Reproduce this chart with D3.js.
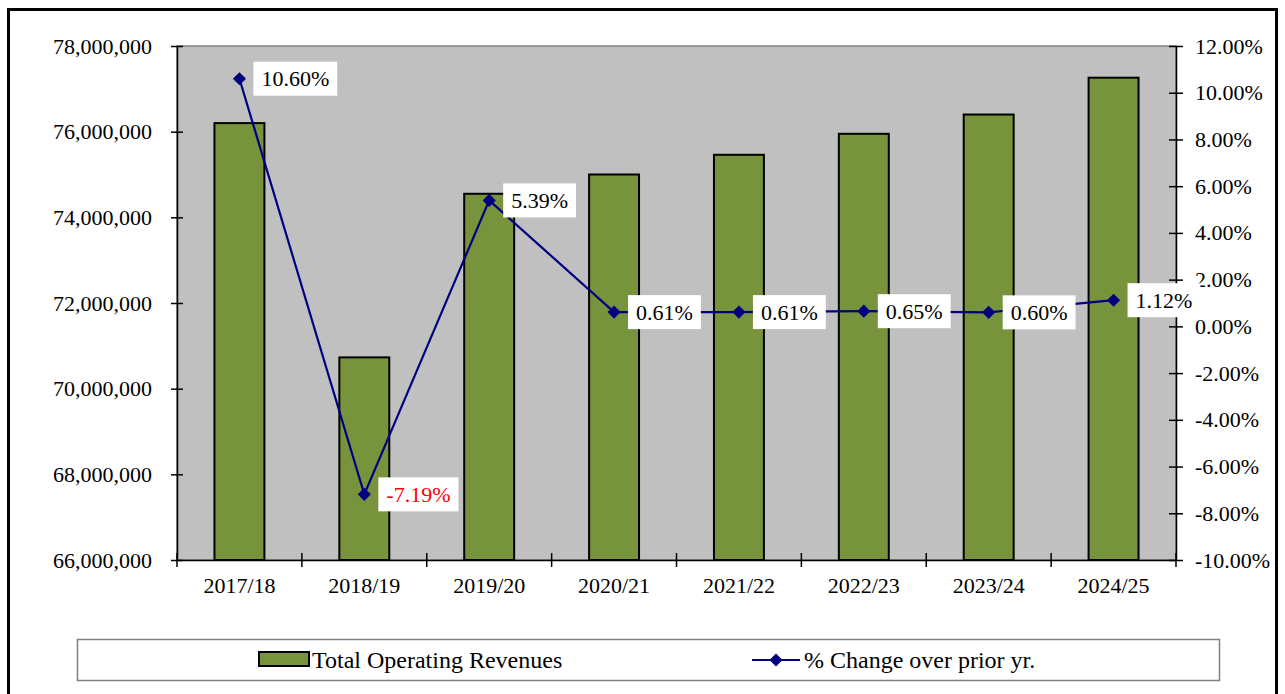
<!DOCTYPE html>
<html>
<head>
<meta charset="utf-8">
<script src="https://cdn.jsdelivr.net/npm/d3@7"></script>
<style>
  body { margin: 0; background: #fff; }
  svg text { font-family: "Liberation Serif", "Times New Roman", serif; fill: #000; }
</style>
</head>
<body>
<div id="chart"></div>
<script>
'use strict';

// data
var years = ["2017/18", "2018/19", "2019/20", "2020/21", "2021/22", "2022/23", "2023/24", "2024/25"];
var revenues = [76200000, 70730000, 74550000, 75000000, 75460000, 75950000, 76400000, 77260000];
var pctChange = [10.60, -7.19, 5.39, 0.61, 0.61, 0.65, 0.60, 1.12];
var revenueTicks = [66000000, 68000000, 70000000, 72000000, 74000000, 76000000, 78000000];
var pctTicks = [-10, -8, -6, -4, -2, 0, 2, 4, 6, 8, 10, 12];

var svgWidth = 1285, svgHeight = 694;
var margin = {top: 46, right: 109, bottom: 134, left: 177};
var width = svgWidth - margin.left - margin.right;
var height = svgHeight - margin.top - margin.bottom;

var svg = d3.select("#chart").append("svg")
  .attr("width", svgWidth)
  .attr("height", svgHeight);

// outer frame
svg.append("rect")
  .attr("x", 8.5).attr("y", 9.5)
  .attr("width", 1268).attr("height", 700)
  .attr("fill", "none").attr("stroke", "#000").attr("stroke-width", 3);

var g = svg.append("g").attr("transform", "translate(" + margin.left + "," + margin.top + ")");

var x = d3.scaleBand().domain(years).range([0, width]).paddingInner(0.6).paddingOuter(0.3);
var xb = d3.scaleBand().domain(years).range([0, width]);
var y = d3.scaleLinear().domain([66000000, 78000000]).range([height, 0]);
var y2 = d3.scaleLinear().domain([-10, 12]).range([height, 0]);

// plot background
g.append("rect")
  .attr("width", width).attr("height", height)
  .attr("fill", "#c0c0c0").attr("stroke", "#808080").attr("stroke-width", 1.5);

// bars
g.selectAll(".bar")
  .data(revenues)
  .enter().append("rect")
  .attr("class", "bar")
  .attr("x", function(d, i) { return x(years[i]); })
  .attr("y", function(d) { return y(d); })
  .attr("width", x.bandwidth())
  .attr("height", function(d) { return height - y(d); })
  .attr("fill", "#77933c")
  .attr("stroke", "#000")
  .attr("stroke-width", 2);

// left axis
var leftAxis = g.append("g")
  .call(d3.axisLeft(y).tickValues(revenueTicks).tickSizeInner(-6).tickSizeOuter(0).tickPadding(25)
    .tickFormat(d3.format(",")));
leftAxis.selectAll(".tick line").attr("x1", -6).attr("x2", 6).attr("stroke-width", 1.5);
leftAxis.select(".domain").attr("stroke-width", 1.5);
leftAxis.selectAll("text").attr("font-size", 22).attr("font-family", "Liberation Serif");

// right axis
var rightAxis = g.append("g")
  .attr("transform", "translate(" + width + ",0)")
  .call(d3.axisRight(y2).tickValues(pctTicks).tickSizeOuter(0).tickPadding(13)
    .tickFormat(function(d) { return d.toFixed(2) + "%"; }));
rightAxis.selectAll(".tick line").attr("x1", -7).attr("x2", 7).attr("stroke-width", 1.5);
rightAxis.select(".domain").attr("stroke-width", 1.5);
rightAxis.selectAll("text").attr("font-size", 22).attr("font-family", "Liberation Serif");

// bottom axis, ticks sit between categories
var bottomAxis = g.append("g")
  .attr("transform", "translate(0," + height + ")")
  .call(d3.axisBottom(x).tickSize(0).tickPadding(17));
bottomAxis.select(".domain").attr("stroke-width", 1.5);
bottomAxis.selectAll("text").attr("font-size", 22).attr("font-family", "Liberation Serif");
g.append("g")
  .attr("transform", "translate(0," + height + ")")
  .selectAll("line")
  .data(years.concat(["end"]))
  .enter().append("line")
  .attr("x1", function(d, i) { return i < years.length ? xb(d) : width; })
  .attr("x2", function(d, i) { return i < years.length ? xb(d) : width; })
  .attr("y1", -7).attr("y2", 7)
  .attr("stroke", "#000").attr("stroke-width", 1.5);

// percent change line
var cx = function(i) { return xb(years[i]) + xb.bandwidth() / 2; };
var line = d3.line()
  .x(function(d, i) { return cx(i); })
  .y(function(d) { return y2(d); });

g.append("path")
  .datum(pctChange)
  .attr("d", line)
  .attr("fill", "none")
  .attr("stroke", "#000080")
  .attr("stroke-width", 2.2);

var diamond = d3.symbol().type(d3.symbolDiamond2).size(110);
g.selectAll(".pt")
  .data(pctChange)
  .enter().append("path")
  .attr("class", "pt")
  .attr("transform", function(d, i) { return "translate(" + cx(i) + "," + y2(d) + ")"; })
  .attr("d", diamond)
  .attr("fill", "#000080");

// data labels
var labels = g.selectAll(".lbl")
  .data(pctChange)
  .enter().append("g")
  .attr("class", "lbl")
  .attr("transform", function(d, i) { return "translate(" + (cx(i) + 14) + "," + y2(d) + ")"; });

labels.append("rect").attr("fill", "#fff");
labels.append("text")
  .attr("x", 8)
  .attr("dy", "0.35em")
  .attr("font-size", 22)
  .style("fill", function(d) { return d < 0 ? "#ff0000" : "#000"; })
  .text(function(d) { return d.toFixed(2) + "%"; });
labels.each(function() {
  var t = d3.select(this).select("text").node().getBBox();
  d3.select(this).select("rect")
    .attr("x", 0).attr("y", -17)
    .attr("width", t.width + 16).attr("height", 34);
});

// legend
var legend = svg.append("g");
legend.append("rect")
  .attr("x", 77.5).attr("y", 639.5)
  .attr("width", 1142).attr("height", 41)
  .attr("fill", "#fff").attr("stroke", "#808080").attr("stroke-width", 1.5);

legend.append("rect")
  .attr("x", 259).attr("y", 652)
  .attr("width", 50).attr("height", 14)
  .attr("fill", "#77933c").attr("stroke", "#000").attr("stroke-width", 2);
legend.append("text")
  .attr("x", 312).attr("y", 660).attr("dy", "0.35em")
  .attr("font-size", 24)
  .text("Total Operating Revenues");

legend.append("line")
  .attr("x1", 752).attr("x2", 800).attr("y1", 660).attr("y2", 660)
  .attr("stroke", "#000080").attr("stroke-width", 2.2);
legend.append("path")
  .attr("transform", "translate(776,660)")
  .attr("d", diamond)
  .attr("fill", "#000080");
legend.append("text")
  .attr("x", 804).attr("y", 660).attr("dy", "0.35em")
  .attr("font-size", 24)
  .text("% Change over prior yr.");
</script>
</body>
</html>
